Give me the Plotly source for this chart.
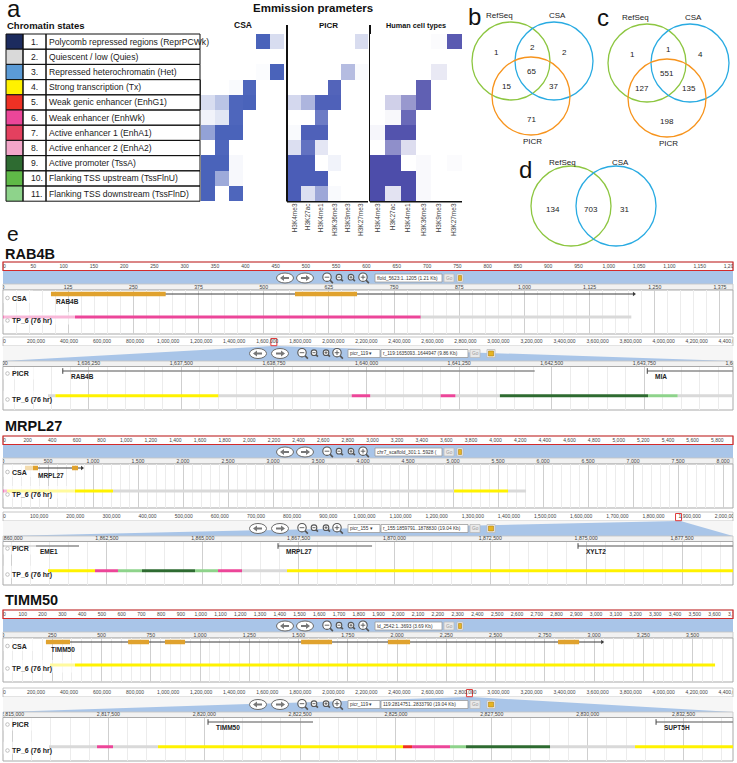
import numpy as np
import plotly.graph_objects as go

W, H = 737, 763
FONT = "Liberation Sans, Arial, Helvetica, sans-serif"

# ===================== DATA =====================
# ---- panel a: chromatin states ----
state_numbers = ["1.", "2.", "3.", "4.", "5.", "6.", "7.", "8.", "9.", "10.", "11."]
state_labels = ["Polycomb repressed regions (ReprPCWk)", "Quiescent / low (Quies)",
                "Repressed heterochromatin (Het)", "Strong transcription (Tx)",
                "Weak genic enhancer (EnhG1)", "Weak enhancer (EnhWk)",
                "Active enhancer 1 (EnhA1)", "Active enhancer 2 (EnhA2)",
                "Active promoter (TssA)", "Flanking TSS upstream (TssFlnU)",
                "Flanking TSS downstream (TssFlnD)"]
state_codes = ["ReprPCWk", "Quies", "Het", "Tx", "EnhG1", "EnhWk", "EnhA1", "EnhA2",
               "TssA", "TssFlnU", "TssFlnD"]
state_colors = ["#1c2b5e", "#d9d9d9", "#5b9bd6", "#fff200", "#ee3124", "#ec4699",
                "#e4405f", "#f3a6c9", "#2e6b31", "#5fb947", "#8ed38b"]

marks = ["H3K4me3", "H3K27ac", "H3K4me1", "H3K36me3", "H3K9me3", "H3K27me3"]

emission_csa = [
    [0, 0, 0, 0, 0.92, 0.2],
    [0, 0, 0, 0, 0, 0],
    [0, 0, 0, 0, 0.02, 0.92],
    [0, 0, 0.03, 0.9, 0, 0],
    [0.2, 0.35, 0.9, 0.92, 0, 0],
    [0.07, 0.15, 0.9, 0, 0, 0],
    [0.55, 0.92, 0.92, 0, 0, 0],
    [0, 0.9, 0, 0, 0, 0],
    [0.92, 0.92, 0.04, 0, 0, 0],
    [0.92, 0.5, 0.04, 0, 0, 0],
    [0.92, 0, 0.9, 0, 0, 0],
]
emission_picr = [
    [0, 0, 0, 0, 0, 0.2],
    [0, 0, 0, 0, 0, 0],
    [0, 0, 0, 0, 0.38, 0.03],
    [0, 0, 0, 0.88, 0, 0],
    [0.22, 0.42, 0.9, 0.9, 0, 0],
    [0, 0, 0.75, 0, 0, 0],
    [0.03, 0.9, 0.9, 0, 0, 0],
    [0.18, 0.8, 0.14, 0, 0, 0],
    [0.92, 0.92, 0, 0.07, 0, 0],
    [0.92, 0.92, 0.92, 0, 0, 0],
    [0.92, 0.18, 0.5, 0.03, 0, 0],
]
emission_human = [
    [0, 0, 0, 0, 0.02, 0.88],
    [0, 0, 0, 0, 0, 0],
    [0, 0, 0, 0, 0.12, 0],
    [0, 0, 0, 0.85, 0, 0],
    [0, 0.25, 0.55, 0.85, 0, 0],
    [0, 0.04, 0.8, 0, 0, 0],
    [0.05, 0.92, 0.92, 0, 0, 0],
    [0, 0.6, 0.18, 0, 0, 0],
    [0.95, 0.95, 0, 0.03, 0, 0.02],
    [0.95, 0.95, 0.95, 0.03, 0, 0],
    [0.95, 0.15, 0.95, 0.03, 0, 0],
]

# ---- panels b-d: Venn counts ----
venn3_sets = ["RefSeq", "CSA", "PICR"]
# order: RefSeq only, CSA only, PICR only, R&C, R&P, C&P, R&C&P
venn_b_counts = [1, 2, 71, 2, 15, 37, 65]
venn_c_counts = [1, 4, 198, 1, 127, 135, 551]
venn2_sets = ["RefSeq", "CSA"]
venn_d_counts = [134, 31, 703]   # RefSeq only, CSA only, both

# ---- panel e: genome browser views ----
# RAB4B
rab4b_csa_len = 1205
rab4b_csa_view = (0, 1400)
rab4b_csa_nav = ["ffold_5623:1..1205 (1.21 Kb)"]
rab4b_csa_genes = [("RAB4B", 92, 1210, [(92, 312), (560, 679)])]
rab4b_csa_states = [(0, 801, "EnhWk"), (801, 1205, "Quies")]

rab4b_picr_len = 4420000
rab4b_picr_view = (1635093, 1644947)
rab4b_picr_nav = ["picr_119", "r_119:1635093..1644947 (9.86 Kb)"]
rab4b_picr_genes = [("RAB4B", 1635900, 1642270, None), ("MIA", 1643790, 1646500, None)]
rab4b_picr_states = [(1635700, 1635800, "Quies"), (1635800, 1638000, "Tx"),
                     (1638000, 1639800, "Quies"), (1639800, 1640050, "EnhWk"),
                     (1640050, 1641000, "Quies"), (1641000, 1641200, "EnhWk"),
                     (1641200, 1641800, "Quies"), (1641800, 1643800, "TssA"),
                     (1643800, 1644200, "TssFlnD"), (1644200, 1644947, "Quies")]

# MRPL27
mrpl27_csa_len = 5928
mrpl27_csa_view = (0, 8110)
mrpl27_csa_nav = ["chr7_scaffold_301:1..5928 ("]
mrpl27_csa_genes = [("MRPL27", 244, 878, [(244, 389), (767, 833)])]
mrpl27_csa_states = [(0, 44, "EnhWk"), (44, 1222, "Tx"), (1222, 5011, "Quies"),
                     (5011, 5611, "Tx"), (5611, 5811, "Quies")]

mrpl27_picr_len = 2020000
mrpl27_picr_view = (1859791, 1878830)
mrpl27_picr_nav = ["picr_155", "r_155:1859791..1878830 (19.04 Kb)"]
mrpl27_picr_genes = [("EME1", 1858000, 1861773, None), ("MRPL27", 1866964, 1869416, None),
                     ("XYLT2", 1874788, 1880000, None)]
mrpl27_picr_states = [(1860965, 1862190, "Tx"), (1862190, 1862790, "EnhWk"),
                      (1862790, 1863416, "TssFlnD"), (1863416, 1864799, "TssA"),
                      (1864799, 1865399, "TssFlnD"), (1865399, 1866025, "EnhWk"),
                      (1866025, 1867198, "Quies"), (1867198, 1878830, "Tx")]

# TIMM50
timm50_csa_len = 3693
timm50_csa_view = (0, 3705)
timm50_csa_nav = ["ld_2542:1..3693 (3.69 Kb)"]
timm50_csa_genes = [("TIMM50", 218, 3041, [(218, 340), (635, 741), (822, 924), (1513, 1670),
                                           (1954, 2066), (2817, 2924)])]
timm50_csa_states = [(239, 3614, "Tx")]

timm50_picr_len = 4420000
timm50_picr_view = (2814751, 2833790)
timm50_picr_nav = ["picr_119", "119:2814751..2833790 (19.04 Kb)"]
timm50_picr_genes = [("TIMM50", 2820098, 2822837, None), ("SUPT5H", 2831783, 2836000, None)]
timm50_picr_states = [(2815951, 2817203, "Quies"), (2817203, 2817620, "EnhWk"),
                      (2817620, 2818794, "Quies"), (2818794, 2825184, "Tx"),
                      (2825184, 2825419, "EnhG1"), (2825419, 2826410, "EnhWk"),
                      (2826410, 2826827, "TssFlnD"), (2826827, 2829018, "TssA"),
                      (2829018, 2831235, "Quies"), (2831235, 2833790, "Tx")]

# ===================== FIGURE =====================
STATE_COLOR = dict(zip(state_codes, state_colors))
NAV_BLUE = "#a9c5e8"
PL, PR = 3, 733

fig = go.Figure()
shapes, annos = [], []
layout = dict(width=W, height=H, autosize=False, margin=dict(l=0, r=0, t=0, b=0, pad=0),
              paper_bgcolor="white", plot_bgcolor="rgba(0,0,0,0)", showlegend=False,
              font=dict(family=FONT, color="#111"))
layout["xaxis"] = dict(domain=[0, 1], range=[0, W], visible=False, fixedrange=True)
layout["yaxis"] = dict(domain=[0, 1], range=[H, 0], visible=False, fixedrange=True)
fig.add_trace(go.Scatter(x=[None], y=[None], xaxis="x", yaxis="y", hoverinfo="skip"))

ax_n = [1]


def new_axes():
    ax_n[0] += 1
    return ax_n[0]


def dx(x0, x1):
    return [x0 / W, x1 / W]


def dy(y0, y1):
    return [1 - y1 / H, 1 - y0 / H]


def rect(x0, y0, x1, y1, fill=None, line=None, lw=1, layer="below"):
    shapes.append(dict(type="rect", xref="x", yref="y", x0=x0, y0=y0, x1=x1, y1=y1,
                       fillcolor=fill or "rgba(0,0,0,0)",
                       line=dict(color=line or "rgba(0,0,0,0)", width=lw if line else 0),
                       layer=layer))


def seg(x0, y0, x1, y1, color="#111", lw=1, layer="below"):
    shapes.append(dict(type="line", xref="x", yref="y", x0=x0, y0=y0, x1=x1, y1=y1,
                       line=dict(color=color, width=lw), layer=layer))


def circ(cx, cy, rx, ry=None, fill=None, line="#111", lw=1, layer="below"):
    ry = rx if ry is None else ry
    shapes.append(dict(type="circle", xref="x", yref="y", x0=cx - rx, x1=cx + rx,
                       y0=cy - ry, y1=cy + ry, fillcolor=fill or "rgba(0,0,0,0)",
                       line=dict(color=line, width=lw), layer=layer))


def text(x, y, s, size=8, color="#111", anchor="left", bold=False, vanchor="middle",
         xref="x", yref="y", xshift=0):
    annos.append(dict(x=x, y=y, xref=xref, yref=yref, text=f"<b>{s}</b>" if bold else s,
                      showarrow=False, xanchor=anchor, yanchor=vanchor, xshift=xshift,
                      borderpad=0, font=dict(size=size, color=color, family=FONT)))


def text_trace(xs, ys, texts, ax, size, color="#444", pos="middle center", clip=True):
    fig.add_trace(go.Scatter(x=list(xs), y=list(ys), text=texts, mode="text", textposition=pos,
                             textfont=dict(size=size, color=color, family=FONT),
                             xaxis=f"x{ax}", yaxis=f"y{ax}", hoverinfo="skip", cliponaxis=clip))


# ---------------- panel a ----------------
text(6, 8, "a", 24)
text(6, 25, "Chromatin states", 9.5, bold=True)
T0, RH = 34, 15.2
cols = [6, 23, 46, 200]
for i in range(len(state_labels)):
    y0 = T0 + i * RH
    y1 = y0 + RH
    rect(cols[0], y0, cols[1], y1, fill=state_colors[i], line="#111", lw=1)
    rect(cols[1], y0, cols[2], y1, line="#111", lw=1)
    rect(cols[2], y0, cols[3], y1, line="#111", lw=1)
    text(30, (y0 + y1) / 2, state_numbers[i], 8.6, color="#1a1a1a")
    text(48, (y0 + y1) / 2, state_labels[i], 8.6, color="#1a1a1a")
seg(201, T0 + 3 * RH, 201, T0 + 5 * RH, "#111", 1.6)

text(313, 8, "Emmission prameters", 11.5, anchor="center", bold=True)
heat_specs = [(emission_csa, 201, 284, "#3a55b4", False, "CSA", 8.5),
              (emission_picr, 288, 368, "#3b4fb1", True, "PICR", 8),
              (emission_human, 370, 462, "#4444a6", True, "Human cell types", 7.3)]
for z, x0, x1, dark, showlab, title, tsize in heat_specs:
    a = new_axes()
    fig.add_trace(go.Heatmap(z=z, x=list(range(len(marks))), y=list(range(len(state_codes))),
                             colorscale=[[0, "#ffffff"], [1, dark]], zmin=0, zmax=1,
                             showscale=False, hoverinfo="skip", xaxis=f"x{a}", yaxis=f"y{a}"))
    layout[f"xaxis{a}"] = dict(domain=dx(x0, x1), range=[-0.5, 5.5], anchor=f"y{a}",
                               tickvals=list(range(len(marks))), ticktext=marks, tickangle=-90,
                               showticklabels=showlab, ticks="", showgrid=False, zeroline=False,
                               showline=False, tickfont=dict(size=6.5, color="#444", family=FONT))
    layout[f"yaxis{a}"] = dict(domain=dy(T0, T0 + 11 * RH), range=[10.5, -0.5], visible=False,
                               anchor=f"x{a}")
    text((x0 + x1) / 2, 25, title, tsize, anchor="center", bold=True)
for lx, rx in [(287, 368), (370, 462)]:
    seg(lx, 25, lx, 201.5, "#111", 2)
    seg(lx, 201.5, rx, 201.5, "#111", 2)

# ---------------- panels b, c, d (Venn) ----------------
circle_off = [(-21, -12), (22, -12), (-1, 23)]
circle_cols = ["#8dc641", "#29abe2", "#f7941d"]
region_off = [(-36, -21), (32, -21), (-1, 46), (0, -26), (-26, 13), (21, 13), (-1, -2)]
setlabel_off = [(-33, -58), (25, -58), (0, 68)]
for letter, lpos, base, counts in [("b", (467, 16), (532, 73), venn_b_counts),
                                   ("c", (596, 17), (668, 75), venn_c_counts)]:
    text(lpos[0], lpos[1], letter, 24)
    for k, name in enumerate(venn3_sets):
        cx, cy = base[0] + circle_off[k][0], base[1] + circle_off[k][1]
        circ(cx, cy, 39, line=circle_cols[k], lw=1.3)
        text(base[0] + setlabel_off[k][0], base[1] + setlabel_off[k][1], name, 8,
             anchor="center", color="#222")
    for k, v in enumerate(counts):
        text(base[0] + region_off[k][0], base[1] + region_off[k][1], str(v), 8,
             anchor="center", color="#222")

text(518, 169, "d", 24)
d_centers = [(571, 206), (616, 206)]
for k, name in enumerate(venn2_sets):
    circ(d_centers[k][0], d_centers[k][1], 40, line=circle_cols[k], lw=1.3)
d_label_off = [(-9, -44), (4, -44)]
for k, name in enumerate(venn2_sets):
    text(d_centers[k][0] + d_label_off[k][0], d_centers[k][1] + d_label_off[k][1], name, 8,
         anchor="center", color="#222")
d_count_pos = [(553, 209), (624, 209), (591, 209)]
for k, v in enumerate(venn_d_counts):
    text(d_count_pos[k][0], d_count_pos[k][1], str(v), 8, anchor="center", color="#222")

# ---------------- panel e (genome browser) ----------------
text(6, 233, "e", 21)


def nav(cx, cy, kind, texts):
    if kind == "CSA":
        arrows = [(-85, -1), (-65, 1)]
        mags = [(-43, 4.2, "-"), (-31, 2.8, "-"), (-19, 2.8, "+"), (-7, 4.2, "+")]
        boxes = [(5, 72, texts[0])]
        gob, icn = (74, 84), (87, 93)
    else:
        arrows = [(-112, -1), (-90, 1)]
        mags = [(-68, 4.2, "-"), (-56, 2.8, "-"), (-44, 2.8, "+"), (-33, 4.2, "+")]
        boxes = [(-22, 10, texts[0] + " \u25be"), (11, 98, texts[1])]
        gob, icn = (100, 110), (117, 125)
    pts = [(4, -1), (-1, -1), (-1, -3), (-5, 0), (-1, 3), (-1, 1), (4, 1)]
    for off, d in arrows:
        x = cx + off
        circ(x, cy, 8.5, 5, fill="white", line="#6a6a6a", lw=1)
        path = "M " + " L ".join(f"{x - d * px},{cy + py}" for px, py in pts) + " Z"
        shapes.append(dict(type="path", xref="x", yref="y", path=path, fillcolor="#777",
                           line=dict(width=0), layer="below"))
    for off, r, sign in mags:
        x = cx + off
        yc = cy - 0.8
        seg(x + 0.7 * r, yc + 0.7 * r, x + 1.4 * r, yc + 1.4 * r, "#555", 1.6)
        circ(x, yc, r, fill="white", line="#555", lw=1.1)
        seg(x - 0.55 * r, yc, x + 0.55 * r, yc, "#555", 0.9)
        if sign == "+":
            seg(x, yc - 0.55 * r, x, yc + 0.55 * r, "#555", 0.9)
    for a0, a1, t in boxes:
        rect(cx + a0, cy - 4, cx + a1, cy + 4, fill="white", line="#9a9a9a", lw=0.8)
        text(cx + a0 + 1, cy, t, 4.8, color="#333")
    rect(cx + gob[0], cy - 4, cx + gob[1], cy + 4, fill="#e9e9e9", line="#bbbbbb", lw=0.8)
    text((2 * cx + gob[0] + gob[1]) / 2, cy, "Go", 4.8, color="#9a9a9a", anchor="center")
    rect(cx + icn[0], cy - 4, cx + icn[1], cy + 4, fill="#f1f1f1", line="#bbbbbb", lw=0.8)
    rect(cx + icn[0] + 1.5, cy - 2.5, cx + icn[1] - 1.5, cy + 2.5, fill="#e6b422",
         line="#b08010", lw=0.6)


def browser(T, kind, scaffold_len, ov_step, view, det_step, nav_texts, genes, states):
    csa = kind == "CSA"
    ovb = T + (8.5 if csa else 9)
    navb = T + (22 if csa else 24)
    trt = T + (28 if csa else 29.5)
    trb = T + (72 if csa else 73)
    th = trb - trt
    span = PR - PL
    if csa:
        gene_y, glab_y, lab1, tp_y, lab2 = 4, 11.5, 8, 27, 30.5
    else:
        gene_y, glab_y, lab1, tp_y, lab2 = 4.5, 9.8, 7, 29.3, 33

    # frame
    rect(PL, T, PR, ovb, fill="white", line="#b8b8b8", lw=0.8)
    if csa:
        rect(PL, ovb, PR, navb, fill=NAV_BLUE)
        rect(PL, T, PR, ovb, line="#d42a2a", lw=1.2)
    else:
        rect(PL, ovb, PR, navb, fill="#f6f6f6")
        ox = PL + (sum(view) / 2) / scaffold_len * span
        shapes.append(dict(type="path", xref="x", yref="y",
                           path=f"M {ox - 2},{ovb} L {ox + 2},{ovb} L {PR},{navb} L {PL},{navb} Z",
                           fillcolor=NAV_BLUE, line=dict(width=0), layer="below"))
        rect(ox - 3, T + 1.5, ox + 3, ovb - 0.3, line="#e03a3a", lw=1)
    rect(PL, navb, PR, trt, fill="#f1f1f1", line="#c4c4c4", lw=0.8)
    rect(PL, trt, PR, trb, fill="white", line="#a9a9a9", lw=1)

    # overview ruler
    a = new_axes()
    layout[f"xaxis{a}"] = dict(domain=dx(PL, PR), range=[0, scaffold_len], visible=False,
                               anchor=f"y{a}")
    layout[f"yaxis{a}"] = dict(domain=dy(T, ovb), range=[0, 1], visible=False, anchor=f"x{a}")
    vals = np.arange(0, scaffold_len + ov_step, ov_step)
    text_trace(vals, [0.45] * len(vals), [f"{int(v):,}" for v in vals], a, 5,
               pos=["middle right"] + ["middle center"] * (len(vals) - 1))

    # detail ruler
    b = new_axes()
    layout[f"xaxis{b}"] = dict(domain=dx(PL, PR), range=list(view), visible=False, anchor=f"y{b}")
    layout[f"yaxis{b}"] = dict(domain=dy(navb, trt), range=[0, 1], visible=False, anchor=f"x{b}")
    first = np.floor(view[0] / det_step) * det_step
    dvals = np.arange(first, view[1] + det_step, det_step)
    text_trace(dvals, [0.45] * len(dvals), [f"{int(v):,}" for v in dvals], b, 5.2)

    # tracks
    c = new_axes()
    layout[f"xaxis{c}"] = dict(domain=dx(PL, PR), range=list(view), anchor=f"y{c}",
                               showgrid=True, gridcolor="#cfcfcf", gridwidth=1, dtick=det_step,
                               tick0=0, minor=dict(dtick=det_step / 5, tick0=0, showgrid=True,
                                                   gridcolor="#ececec", gridwidth=1),
                               showticklabels=False, ticks="", zeroline=False, showline=False)
    layout[f"yaxis{c}"] = dict(domain=dy(trt, trb), range=[th, 0], visible=False, anchor=f"x{c}")

    for code in state_codes:
        segs = [s for s in states if s[2] == code]
        if not segs:
            continue
        xs, ys = [], []
        for s0, s1, _ in segs:
            xs += [s0, s1, None]
            ys += [tp_y, tp_y, None]
        fig.add_trace(go.Scatter(x=xs, y=ys, mode="lines",
                                 line=dict(color=STATE_COLOR[code], width=3),
                                 xaxis=f"x{c}", yaxis=f"y{c}", hoverinfo="skip"))

    vw = view[1] - view[0]
    for name, g0, g1, exons in genes:
        if exons is not None:
            fig.add_trace(go.Scatter(x=[g0, g1], y=[gene_y, gene_y], mode="lines",
                                     line=dict(color="#3a3a3a", width=1),
                                     xaxis=f"x{c}", yaxis=f"y{c}", hoverinfo="skip"))
            xs, ys = [], []
            for e0, e1 in exons:
                xs += [e0, e1, None]
                ys += [gene_y, gene_y, None]
            fig.add_trace(go.Scatter(x=xs, y=ys, mode="lines",
                                     line=dict(color="#e0a22e", width=4.5),
                                     xaxis=f"x{c}", yaxis=f"y{c}", hoverinfo="skip"))
            fig.add_trace(go.Scatter(x=[g1], y=[gene_y], mode="markers",
                                     marker=dict(symbol="triangle-right", size=4, color="#3a3a3a"),
                                     xaxis=f"x{c}", yaxis=f"y{c}", hoverinfo="skip"))
            min_px, shift = 33, 4
        else:
            fig.add_trace(go.Scatter(x=[g0, g1], y=[gene_y, gene_y], mode="lines",
                                     line=dict(color="#8c8c8c", width=1.6),
                                     xaxis=f"x{c}", yaxis=f"y{c}", hoverinfo="skip"))
            fig.add_trace(go.Scatter(x=[g0], y=[gene_y], mode="markers",
                                     marker=dict(symbol="line-ns", size=4,
                                                 line=dict(color="#444", width=1)),
                                     xaxis=f"x{c}", yaxis=f"y{c}", hoverinfo="skip"))
            min_px, shift = 32, 7
        lx = max(g0, view[0] + (min_px - PL) / span * vw)
        text(lx, glab_y, name, 6.5, bold=True, xref=f"x{c}", yref=f"y{c}", xshift=shift,
             color="#222")

    # label veils and labels
    v1 = 33 if csa else 36
    v2 = 75 if csa else 48
    rect(PL + 0.5, trt + 0.5, v1, trt + 13, fill="rgba(255,255,255,0.62)", layer="above")
    rect(PL + 0.5, trt + tp_y - 5, v2, trt + tp_y + 7.5, fill="rgba(255,255,255,0.62)",
         layer="above")
    for lab, ly in [(kind, lab1), ("TP_6 (76 hr)", lab2)]:
        circ(PL + 4.5, trt + ly, 1.8, fill="white", line="#b0b0b0", lw=0.8, layer="above")
        text(PL + 8, trt + ly, lab, 7, bold=True, color="#222")

    nav(370, T + (16 if csa else 16.5), kind, nav_texts)


blocks = [
    ("RAB4B", 253.5, 262, 337,
     (rab4b_csa_len, 50, rab4b_csa_view, 125, rab4b_csa_nav, rab4b_csa_genes, rab4b_csa_states),
     (rab4b_picr_len, 200000, rab4b_picr_view, 1250, rab4b_picr_nav, rab4b_picr_genes,
      rab4b_picr_states)),
    ("MRPL27", 426, 436, 512,
     (mrpl27_csa_len, 200, mrpl27_csa_view, 500, mrpl27_csa_nav, mrpl27_csa_genes,
      mrpl27_csa_states),
     (mrpl27_picr_len, 100000, mrpl27_picr_view, 2500, mrpl27_picr_nav, mrpl27_picr_genes,
      mrpl27_picr_states)),
    ("TIMM50", 600, 610, 688,
     (timm50_csa_len, 100, timm50_csa_view, 250, timm50_csa_nav, timm50_csa_genes,
      timm50_csa_states),
     (timm50_picr_len, 200000, timm50_picr_view, 2500, timm50_picr_nav, timm50_picr_genes,
      timm50_picr_states)),
]
for gname, ty, t_csa, t_picr, csa_args, picr_args in blocks:
    text(4, ty, gname, 14.5, bold=True)
    browser(t_csa, "CSA", *csa_args)
    browser(t_picr, "PICR", *picr_args)

fig.update_layout(layout)
fig.update_layout(shapes=shapes, annotations=annos)
fig.write_html("out.html", config={"displayModeBar": False, "staticPlot": True},
               post_script="document.body.style.margin='0px';document.body.style.overflow='hidden';")
